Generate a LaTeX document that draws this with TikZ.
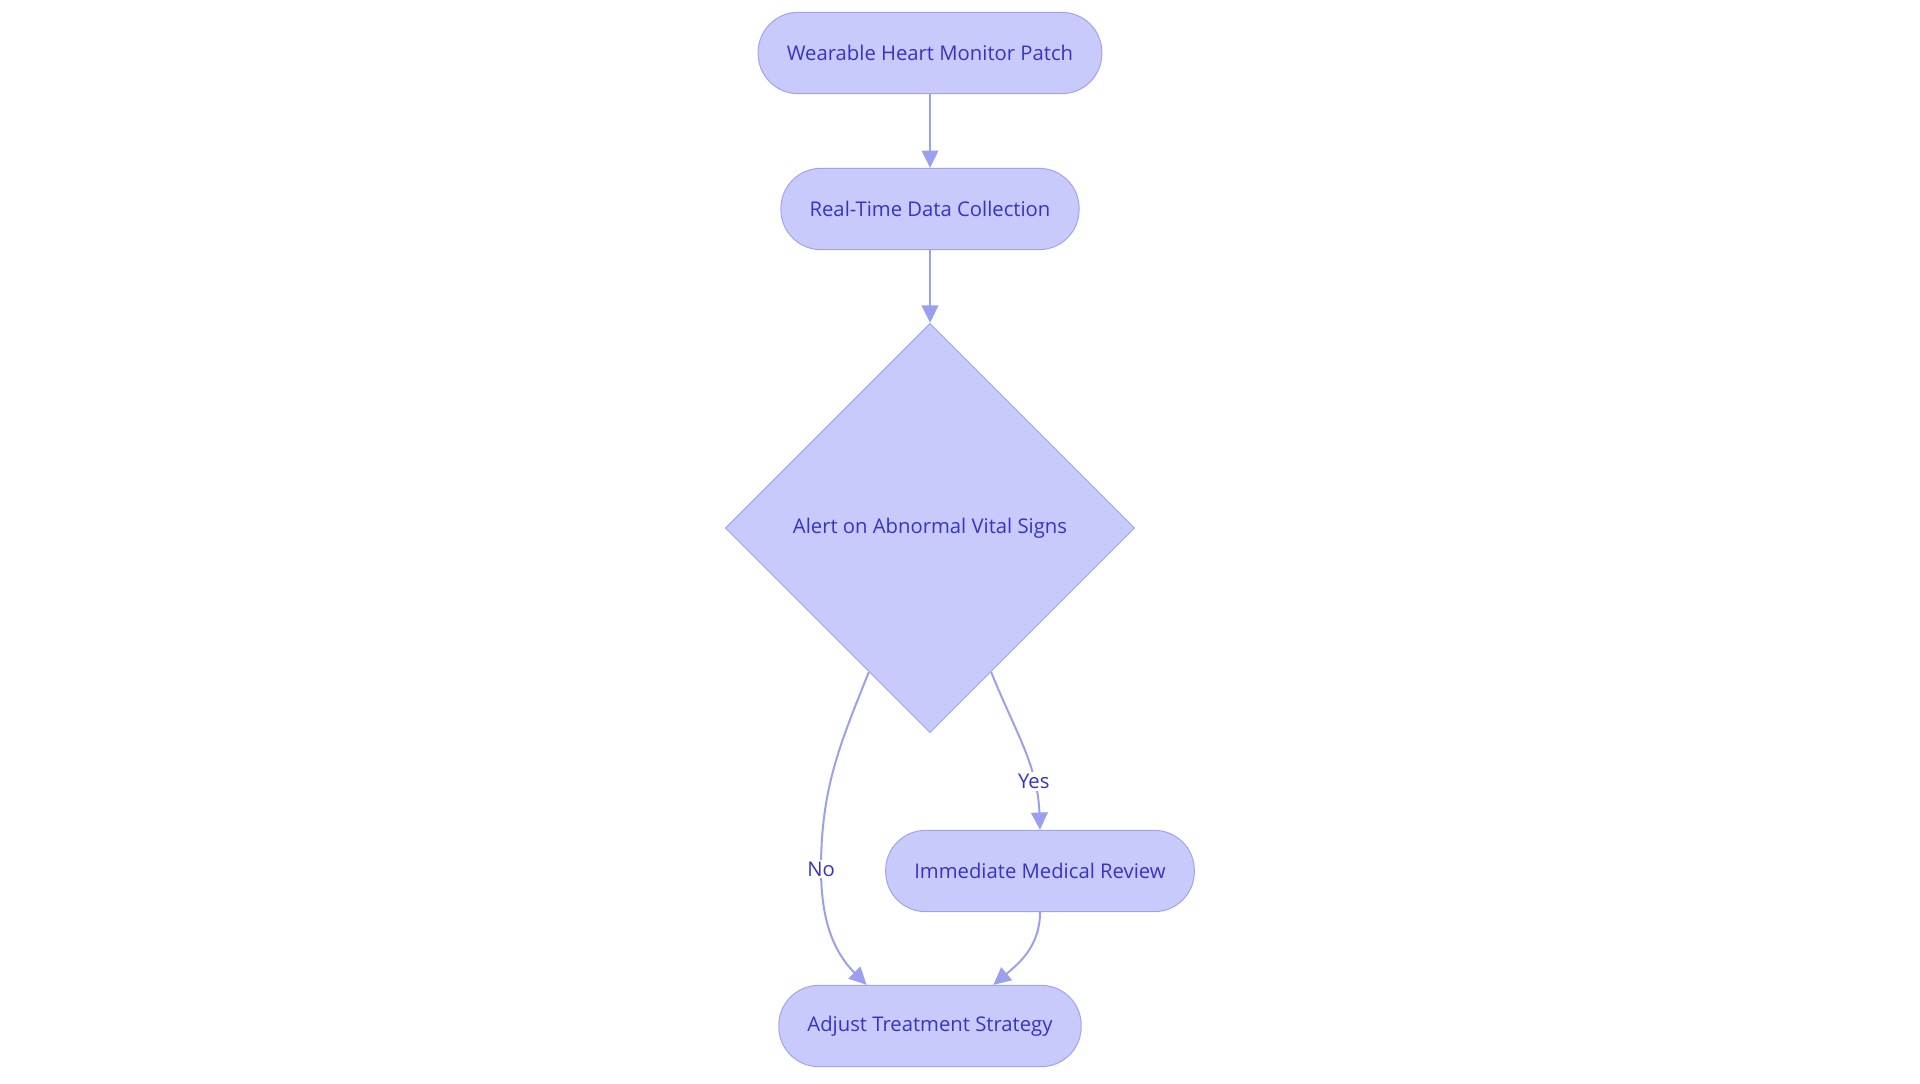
\documentclass[tikz,border=0pt]{standalone}
\usepackage{fontspec}
\setmainfont{Open Sans}
\usetikzlibrary{shapes.geometric,arrows.meta}
\definecolor{boxfill}{RGB}{201,202,252}
\definecolor{boxline}{RGB}{160,164,240}
\definecolor{flowline}{RGB}{155,160,238}
\definecolor{boxtext}{RGB}{52,52,200}
\tikzset{
  stadium/.style={draw=boxline,fill=boxfill,line width=0.75pt,text=boxtext,font=\fontsize{15.2}{17}\selectfont,
    rounded corners=30pt,minimum height=61pt,inner xsep=21.5pt},
  decision/.style={diamond,aspect=1,draw=boxline,fill=boxfill,line width=0.75pt,text=boxtext,
    font=\fontsize{15.2}{17}\selectfont,minimum size=307pt,inner sep=0pt},
  flow/.style={draw=flowline,line width=1.5pt,-{Triangle[length=13pt,width=12.5pt]}},
  lbl/.style={fill=white,text=boxtext,font=\fontsize{15.2}{17}\selectfont,inner sep=1.5pt}
}
\begin{document}
\begin{tikzpicture}[x=0.75pt,y=0.75pt,yscale=-1,xscale=1]
\useasboundingbox (0,0) rectangle (1920,1083);

% Text Node
\node [stadium] (patch) at (930,53) {Wearable Heart Monitor Patch};
% Text Node
\node [stadium] (collect) at (930,209) {Real-Time Data Collection};
% Shape: Diamond
\node [decision] (alert) at (930,528) {Alert on Abnormal Vital Signs};
% Text Node
\node [stadium] (review) at (1040,871) {Immediate Medical Review};
% Text Node
\node [stadium] (adjust) at (930,1026) {Adjust Treatment Strategy};

%Straight Lines
\draw [flow] (patch) -- (collect);
\draw [flow] (collect) -- (alert);
%Curve Lines
\coordinate (nobend) at (821,869);
\draw [flow] (alert.-113) to[out=112,in=-90] (nobend) to[out=90,in=-135] (adjust.147);
\node [lbl] (nolbl) at (nobend) {No};
\draw [flow] (alert.-67) to[out=68,in=-92] node[lbl,pos=0.72] (yeslbl) {Yes} (review.north);
\draw [flow] (review.south) to[out=90,in=-40] (adjust.33);

\end{tikzpicture}
\end{document}
